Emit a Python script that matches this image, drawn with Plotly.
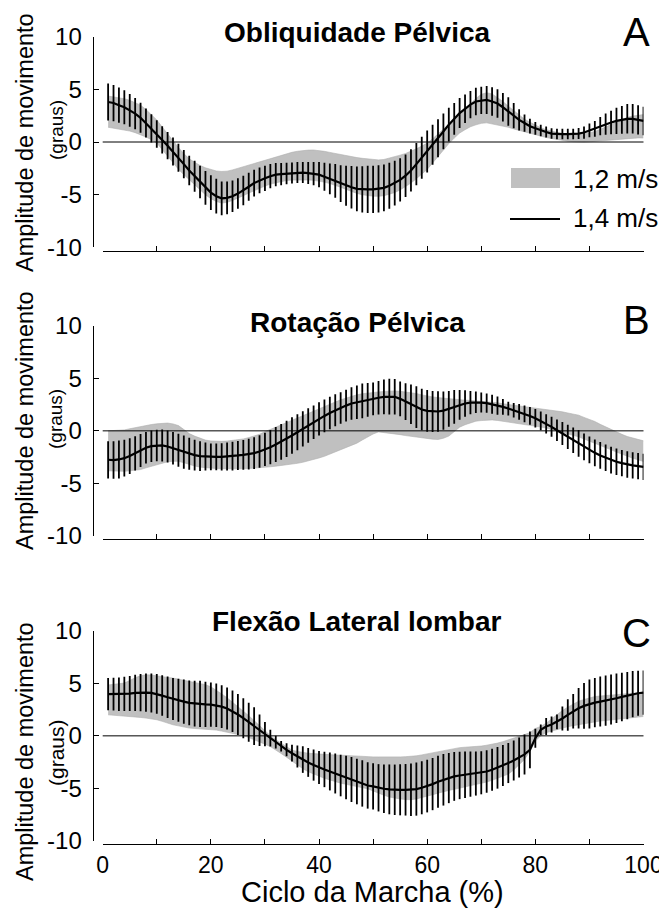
import plotly.graph_objects as go

# page body has an 8px margin: the figure is drawn 8px right/down of the window origin
OFF = 8
WIN_W, WIN_H = 667, 909
W, H = WIN_W - OFF, WIN_H - OFF
FONT = "Liberation Sans, Arial, sans-serif"

# ---------------- data ----------------
ciclo = list(range(1, 101))  # % do ciclo da marcha

# Painel A - Obliquidade Pelvica
a12_mean = [2.88,2.80,2.72,2.63,2.50,2.32,2.10,1.78,1.42,1.00,
            0.35,-0.30,-0.95,-1.55,-2.10,-2.60,-3.00,-3.40,-3.73,-4.00,
            -4.20,-4.30,-4.25,-4.10,-3.93,-3.72,-3.52,-3.33,-3.15,-2.97,
            -2.80,-2.65,-2.50,-2.38,-2.30,-2.24,-2.20,-2.19,-2.20,-2.25,
            -2.35,-2.47,-2.60,-2.75,-2.90,-3.05,-3.18,-3.28,-3.35,-3.40,
            -3.43,-3.38,-3.25,-3.10,-2.90,-2.67,-2.40,-2.07,-1.72,-1.35,
            -0.85,-0.30,0.25,0.75,1.25,1.73,2.15,2.55,2.88,3.15,
            3.25,3.15,2.95,2.70,2.40,2.12,1.85,1.55,1.33,1.12,
            0.95,0.80,0.68,0.56,0.47,0.41,0.37,0.35,0.38,0.45,
            0.53,0.65,0.80,0.94,1.08,1.22,1.35,1.42,1.47,1.49]
a12_sd = [1.48,1.48,1.48,1.48,1.46,1.43,1.40,1.30,1.20,1.10,
          1.07,1.05,1.05,1.03,1.00,1.00,1.08,1.17,1.28,1.38,
          1.45,1.50,1.48,1.45,1.43,1.38,1.33,1.28,1.24,1.22,
          1.20,1.22,1.25,1.28,1.32,1.36,1.40,1.42,1.44,1.45,
          1.46,1.48,1.50,1.55,1.60,1.65,1.70,1.73,1.75,1.75,
          1.73,1.72,1.71,1.70,1.65,1.58,1.50,1.42,1.33,1.25,
          1.15,1.05,0.95,0.90,0.88,0.88,0.98,1.10,1.25,1.38,
          1.43,1.42,1.30,1.15,1.00,0.88,0.75,0.62,0.55,0.47,
          0.40,0.37,0.35,0.33,0.32,0.33,0.34,0.35,0.39,0.43,
          0.47,0.55,0.63,0.72,0.81,0.90,0.99,1.04,1.08,1.11]
a14_mean = [3.80,3.70,3.50,3.30,3.00,2.70,2.30,1.80,1.30,0.76,
            0.20,-0.35,-0.90,-1.50,-2.10,-2.70,-3.25,-3.80,-4.35,-4.80,
            -5.15,-5.35,-5.30,-5.15,-4.90,-4.60,-4.25,-3.90,-3.65,-3.45,
            -3.25,-3.10,-3.05,-3.00,-2.95,-2.90,-2.90,-2.95,-3.00,-3.10,
            -3.30,-3.50,-3.70,-3.95,-4.15,-4.30,-4.45,-4.50,-4.50,-4.50,
            -4.45,-4.35,-4.15,-3.90,-3.60,-3.20,-2.70,-2.10,-1.50,-0.90,
            -0.25,0.35,1.00,1.65,2.20,2.75,3.15,3.55,3.85,3.95,
            4.00,3.85,3.65,3.30,2.90,2.50,2.10,1.80,1.50,1.30,
            1.10,0.95,0.80,0.75,0.75,0.75,0.75,0.80,0.90,1.10,
            1.25,1.50,1.70,1.85,2.00,2.10,2.20,2.20,2.10,2.00]
a14_sd = [1.75,1.72,1.68,1.62,1.55,1.48,1.42,1.38,1.34,1.30,
          1.30,1.30,1.32,1.33,1.35,1.40,1.48,1.55,1.60,1.65,
          1.65,1.60,1.55,1.50,1.45,1.40,1.33,1.27,1.22,1.20,
          1.15,1.10,1.05,1.02,1.00,1.00,1.00,1.05,1.10,1.20,
          1.33,1.47,1.60,1.75,1.90,2.02,2.12,2.20,2.25,2.25,
          2.25,2.22,2.18,2.12,2.05,2.02,2.00,2.00,2.00,2.00,
          1.90,1.80,1.70,1.60,1.50,1.42,1.35,1.30,1.30,1.30,
          1.33,1.35,1.35,1.35,1.35,1.20,1.00,0.82,0.70,0.60,
          0.55,0.52,0.50,0.50,0.50,0.50,0.50,0.52,0.58,0.65,
          0.75,0.87,1.00,1.12,1.25,1.32,1.40,1.40,1.38,1.35]

# Painel B - Rotacao Pelvica
b12_mean = [-1.90,-1.90,-1.90,-1.88,-1.80,-1.72,-1.63,-1.50,-1.38,-1.28,
            -1.18,-1.10,-1.12,-1.20,-1.45,-1.73,-1.92,-2.08,-2.20,-2.26,
            -2.29,-2.30,-2.29,-2.27,-2.24,-2.19,-2.11,-2.02,-1.93,-1.78,
            -1.64,-1.50,-1.36,-1.23,-1.09,-0.92,-0.75,-0.58,-0.40,-0.23,
            -0.05,0.15,0.37,0.58,0.77,0.95,1.13,1.33,1.53,1.68,
            1.80,1.80,1.78,1.76,1.70,1.63,1.57,1.47,1.37,1.27,
            1.22,1.17,1.20,1.28,1.45,1.65,1.75,1.83,1.89,1.90,
            1.90,1.89,1.83,1.75,1.68,1.62,1.55,1.47,1.40,1.32,
            1.25,1.17,1.06,0.96,0.85,0.72,0.59,0.46,0.25,0.06,
            -0.14,-0.38,-0.61,-0.85,-1.07,-1.28,-1.49,-1.64,-1.79,-1.93]
b12_sd = [1.90,1.92,1.94,1.97,2.00,2.03,2.05,2.02,1.98,1.95,
          1.90,1.84,1.78,1.70,1.58,1.47,1.42,1.37,1.32,1.30,
          1.30,1.30,1.32,1.35,1.38,1.42,1.47,1.53,1.60,1.70,
          1.78,1.86,1.95,2.03,2.10,2.17,2.24,2.29,2.32,2.35,
          2.37,2.37,2.37,2.37,2.35,2.32,2.30,2.20,2.08,1.98,
          1.90,1.95,2.00,2.04,2.06,2.08,2.10,2.08,2.05,2.03,
          2.01,1.99,1.90,1.78,1.55,1.30,1.17,1.06,0.97,0.92,
          0.88,0.85,0.84,0.83,0.83,0.84,0.85,0.87,0.87,0.88,
          0.89,0.90,0.92,0.94,0.96,0.98,1.01,1.03,1.03,1.03,
          1.03,1.00,0.98,0.95,0.95,0.95,0.95,0.96,0.97,0.98]
b14_mean = [-2.75,-2.78,-2.72,-2.60,-2.40,-2.15,-1.87,-1.60,-1.46,-1.39,
            -1.39,-1.49,-1.65,-1.84,-2.03,-2.18,-2.31,-2.40,-2.44,-2.47,
            -2.47,-2.47,-2.44,-2.40,-2.34,-2.28,-2.22,-2.12,-1.96,-1.77,
            -1.55,-1.30,-1.04,-0.76,-0.44,-0.13,0.19,0.50,0.82,1.14,
            1.42,1.70,1.96,2.18,2.40,2.60,2.72,2.85,2.94,3.04,
            3.15,3.23,3.26,3.24,3.04,2.78,2.53,2.25,2.03,1.90,
            1.84,1.84,1.93,2.09,2.28,2.47,2.60,2.69,2.72,2.69,
            2.63,2.53,2.40,2.28,2.12,1.96,1.80,1.61,1.42,1.20,
            0.95,0.66,0.38,0.06,-0.25,-0.57,-0.89,-1.20,-1.52,-1.80,
            -2.09,-2.34,-2.56,-2.78,-2.94,-3.07,-3.20,-3.29,-3.35,-3.42]
b14_sd = [1.77,1.78,1.80,1.75,1.70,1.63,1.56,1.50,1.50,1.50,
          1.52,1.53,1.55,1.57,1.58,1.53,1.47,1.42,1.33,1.27,
          1.27,1.30,1.33,1.36,1.38,1.42,1.46,1.50,1.54,1.58,
          1.62,1.66,1.70,1.72,1.74,1.72,1.68,1.64,1.60,1.58,
          1.56,1.54,1.52,1.50,1.50,1.55,1.60,1.66,1.60,1.55,
          1.60,1.65,1.70,1.68,1.66,1.75,1.87,1.98,1.98,1.98,
          1.96,1.93,1.82,1.70,1.60,1.42,1.25,1.10,1.02,0.95,
          0.92,0.90,0.87,0.76,0.65,0.70,0.75,0.80,0.84,0.87,
          0.90,0.92,0.95,1.02,1.10,1.16,1.22,1.27,1.27,1.27,
          1.27,1.27,1.27,1.27,1.27,1.25,1.25,1.25,1.25,1.25]

# Painel C - Flexao Lateral lombar
c12_mean = [3.42,3.43,3.44,3.46,3.56,3.67,3.73,3.75,3.70,3.63,
            3.52,3.38,3.27,3.17,3.06,2.96,2.89,2.82,2.76,2.64,
            2.45,2.22,1.98,1.72,1.46,1.20,0.88,0.55,0.20,-0.15,
            -0.50,-0.84,-1.20,-1.55,-1.88,-2.12,-2.35,-2.53,-2.66,-2.80,
            -2.90,-2.99,-3.09,-3.17,-3.24,-3.31,-3.39,-3.45,-3.52,-3.62,
            -3.74,-3.83,-3.92,-3.98,-4.00,-4.02,-4.02,-3.95,-3.85,-3.74,
            -3.60,-3.47,-3.35,-3.25,-3.15,-3.05,-2.98,-2.92,-2.85,-2.75,
            -2.64,-2.52,-2.37,-2.20,-2.02,-1.75,-1.42,-1.06,-0.60,0.10,
            0.45,0.75,1.03,1.33,1.58,1.80,2.00,2.18,2.31,2.44,
            2.55,2.60,2.65,2.70,2.76,2.82,2.87,2.91,2.95,2.98]
c12_sd = [1.42,1.46,1.50,1.56,1.70,1.86,1.98,2.06,2.08,2.10,
          2.14,2.18,2.22,2.22,2.22,2.22,2.19,2.15,2.11,2.02,
          1.90,1.77,1.64,1.48,1.32,1.18,1.04,0.90,0.76,0.64,
          0.52,0.48,0.48,0.48,0.52,0.64,0.77,0.88,0.97,1.06,
          1.14,1.20,1.27,1.33,1.37,1.40,1.43,1.47,1.52,1.62,
          1.74,1.82,1.90,1.96,2.00,2.04,2.06,2.05,2.04,2.03,
          2.00,1.98,1.95,1.94,1.94,1.93,1.90,1.86,1.82,1.78,
          1.75,1.71,1.68,1.65,1.62,1.50,1.35,1.18,0.90,0.60,
          0.45,0.45,0.58,0.72,0.82,0.93,1.03,1.11,1.15,1.18,
          1.19,1.19,1.19,1.19,1.19,1.19,1.19,1.17,1.15,1.14]
c14_mean = [3.96,3.96,3.96,3.99,4.02,4.08,4.11,4.11,4.08,3.99,
            3.83,3.67,3.51,3.39,3.26,3.13,3.07,3.04,3.00,2.97,
            2.91,2.78,2.60,2.34,2.03,1.68,1.30,0.92,0.54,0.16,
            -0.22,-0.60,-0.98,-1.33,-1.65,-1.96,-2.25,-2.53,-2.78,-3.01,
            -3.20,-3.39,-3.58,-3.77,-3.96,-4.15,-4.34,-4.53,-4.72,-4.81,
            -4.94,-5.03,-5.09,-5.13,-5.13,-5.13,-5.13,-5.06,-4.94,-4.78,
            -4.59,-4.37,-4.18,-4.02,-3.86,-3.77,-3.70,-3.64,-3.58,-3.51,
            -3.39,-3.23,-3.04,-2.82,-2.59,-2.34,-2.06,-1.77,-1.33,-0.22,
            0.57,0.89,1.08,1.33,1.65,1.99,2.34,2.63,2.85,3.04,
            3.16,3.26,3.35,3.45,3.58,3.70,3.83,3.96,4.05,4.11]
c14_sd = [1.53,1.56,1.60,1.63,1.66,1.72,1.77,1.82,1.86,1.90,
          1.93,1.97,2.00,2.05,2.10,2.13,2.17,2.20,2.15,2.10,
          2.07,2.03,2.00,1.97,1.95,1.90,1.85,1.80,1.50,1.15,
          0.80,0.60,0.50,0.62,0.80,1.05,1.27,1.37,1.48,1.58,
          1.68,1.80,1.90,1.98,2.06,2.14,2.17,2.20,2.20,2.20,
          2.25,2.30,2.37,2.40,2.43,2.45,2.50,2.53,2.52,2.50,
          2.48,2.47,2.45,2.38,2.32,2.25,2.20,2.15,2.10,2.05,
          2.02,2.00,1.98,1.95,1.90,1.90,1.90,1.90,1.74,0.90,
          0.50,0.80,0.75,0.70,1.14,1.50,1.63,1.93,2.17,2.33,
          2.35,2.38,2.40,2.38,2.35,2.30,2.25,2.20,2.15,2.10]

titles = ["Obliquidade Pélvica", "Rotação Pélvica", "Flexão Lateral lombar"]
letters = ["A", "B", "C"]
legend_labels = ["1,2 m/s", "1,4 m/s"]
y_ticks = [-10, -5, 0, 5, 10]
y_ticktext = ["-10", "-5", "0", "5", "10"]
x_ticks = [0, 20, 40, 60, 80, 100]
x_title = "Ciclo da Marcha (%)"
y_title = "Amplitude de movimento"
y_unit = "(graus)"

panels = [(a12_mean, a12_sd, a14_mean, a14_sd),
          (b12_mean, b12_sd, b14_mean, b14_sd),
          (c12_mean, c12_sd, c14_mean, c14_sd)]

# ---------------- layout geometry (window pixels) ----------------
def px_x(p): return (p - OFF) / W
def px_y(p): return 1 - (p - OFF) / H

x_dom = [px_x(102.7), px_x(643.5)]
y_axis_pos = px_x(92.7)
panel_px = [(36.7, 247.3), (325.7, 536.0), (630.7, 841.0)]  # (top=10, bottom=-10)
title_py = [33, 322, 621]
letter_py = [32, 320, 633]
amp_py = [143, 421, 752]
unit_py = [130, 419, 753]
unit_size = [19, 19, 21]

GRAY = "rgb(192,192,192)"

fig = go.Figure()
layout_axes = {}
annotations = []
shapes = []

for i, (m12, s12, m14, s14) in enumerate(panels):
    xa = "x" if i == 0 else f"x{i+1}"
    ya = "y" if i == 0 else f"y{i+1}"
    up = [m + s for m, s in zip(m12, s12)]
    lo = [m - s for m, s in zip(m12, s12)]
    fig.add_trace(go.Scatter(x=ciclo, y=up, mode="lines",
                             line=dict(width=0.6, color="rgb(175,175,175)"),
                             xaxis=xa, yaxis=ya, showlegend=False, hoverinfo="skip"))
    fig.add_trace(go.Scatter(x=ciclo, y=lo, mode="lines", fill="tonexty",
                             fillcolor=GRAY,
                             line=dict(width=0.6, color="rgb(175,175,175)"),
                             xaxis=xa, yaxis=ya, showlegend=False, hoverinfo="skip"))
    fig.add_trace(go.Scatter(x=ciclo, y=m14, mode="lines",
                             line=dict(width=2.2, color="black"),
                             error_y=dict(type="data", array=s14, visible=True,
                                          color="black", thickness=1.8, width=0),
                             xaxis=xa, yaxis=ya, showlegend=False))

    top_px, bot_px = panel_px[i]
    ydom = [px_y(bot_px), px_y(top_px)]
    xpos = px_y(bot_px + 3.4)
    xkey = "xaxis" if i == 0 else f"xaxis{i+1}"
    ykey = "yaxis" if i == 0 else f"yaxis{i+1}"
    layout_axes[xkey] = dict(
        domain=x_dom, range=[0, 100], anchor="free", position=xpos,
        automargin=False,
        showline=True, linecolor="black", linewidth=1.3,
        ticks="inside", ticklen=5, tickwidth=1.3, tickcolor="black",
        tickvals=x_ticks, showticklabels=(i == 2),
        tickfont=dict(family=FONT, size=23, color="black"),
        ticklabelstandoff=0,
        minor=dict(dtick=10, tick0=0, ticks="inside", ticklen=5,
                   tickwidth=1.3, tickcolor="black"),
        showgrid=False, zeroline=False, fixedrange=True,
    )
    layout_axes[ykey] = dict(
        domain=ydom, range=[-10, 10], anchor="free", position=y_axis_pos,
        automargin=False,
        showline=True, linecolor="black", linewidth=1.3,
        ticks="inside", ticklen=5, tickwidth=1.3, tickcolor="black",
        tickvals=y_ticks, ticktext=y_ticktext,
        tickfont=dict(family=FONT, size=24, color="black"),
        ticklabelstandoff=6,
        showgrid=False, zeroline=False, fixedrange=True,
    )
    # zero reference line
    shapes.append(dict(type="line", xref=f"{xa} domain", yref=ya,
                       x0=0, x1=1, y0=0, y1=0,
                       line=dict(color="black", width=1), layer="above"))
    # texts
    annotations.append(dict(text=f"<b>{titles[i]}</b>", x=px_x(357), y=px_y(title_py[i]),
                            xref="paper", yref="paper", showarrow=False,
                            xanchor="center", yanchor="middle",
                            font=dict(family=FONT, size=28, color="black")))
    annotations.append(dict(text=letters[i], x=px_x(636), y=px_y(letter_py[i]),
                            xref="paper", yref="paper", showarrow=False,
                            xanchor="center", yanchor="middle",
                            font=dict(family=FONT, size=40, color="black")))
    annotations.append(dict(text=y_title, x=px_x(25), y=px_y(amp_py[i]),
                            xref="paper", yref="paper", showarrow=False,
                            textangle=-90, xanchor="center", yanchor="middle",
                            font=dict(family=FONT, size=23.5, color="black")))
    annotations.append(dict(text=y_unit, x=px_x(56), y=px_y(unit_py[i]),
                            xref="paper", yref="paper", showarrow=False,
                            textangle=-90, xanchor="center", yanchor="middle",
                            font=dict(family=FONT, size=unit_size[i], color="black")))

# x-axis title
annotations.append(dict(text=x_title, x=px_x(372.5), y=px_y(891.5),
                        xref="paper", yref="paper", showarrow=False,
                        xanchor="center", yanchor="middle",
                        font=dict(family=FONT, size=29, color="black")))

# legend (panel A)
shapes.append(dict(type="rect", xref="paper", yref="paper",
                   x0=px_x(511), x1=px_x(560), y0=px_y(188), y1=px_y(168),
                   fillcolor=GRAY, line=dict(width=0)))
shapes.append(dict(type="line", xref="paper", yref="paper",
                   x0=px_x(510), x1=px_x(560), y0=px_y(219), y1=px_y(219),
                   line=dict(color="black", width=2)))
annotations.append(dict(text=legend_labels[0], x=px_x(571), y=px_y(179),
                        xref="paper", yref="paper", showarrow=False,
                        xanchor="left", yanchor="middle",
                        font=dict(family=FONT, size=26, color="black")))
annotations.append(dict(text=legend_labels[1], x=px_x(571), y=px_y(218),
                        xref="paper", yref="paper", showarrow=False,
                        xanchor="left", yanchor="middle",
                        font=dict(family=FONT, size=26, color="black")))

fig.update_layout(
    width=W, height=H,
    margin=dict(l=0, r=0, t=0, b=0, autoexpand=False),
    paper_bgcolor="white", plot_bgcolor="white",
    showlegend=False,
    annotations=annotations, shapes=shapes,
    **layout_axes,
)

fig.write_html("out.html", config={"displayModeBar": False})
